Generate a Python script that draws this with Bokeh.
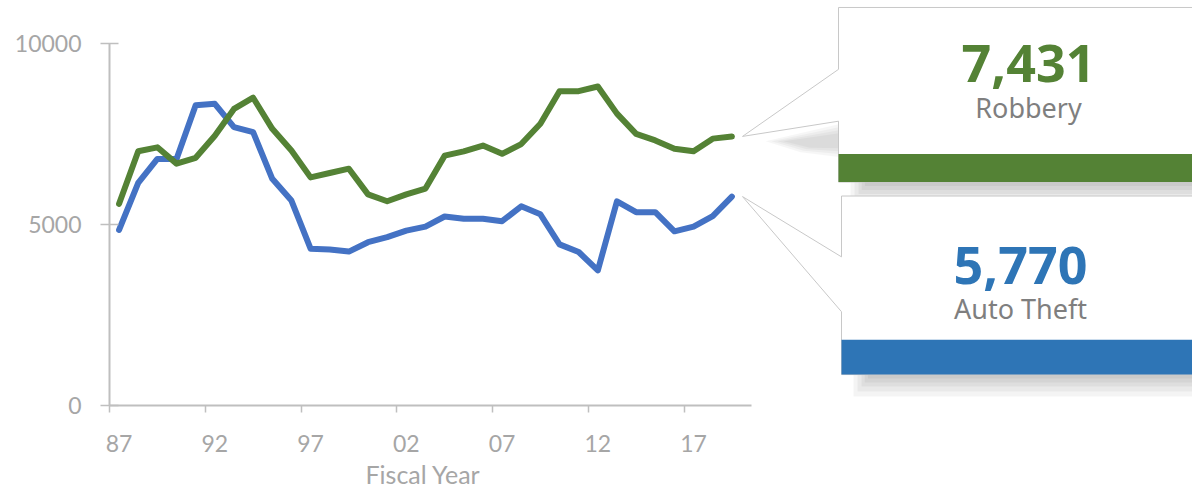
from bokeh.plotting import figure
from bokeh.models import Range1d, FixedTicker, Title
from bokeh.core.properties import value
from bokeh.embed import file_html
from bokeh.resources import INLINE

# ---------------- data ----------------
years = list(range(1987, 2020))
robbery = [5570, 7020, 7130, 6680, 6840, 7450, 8190, 8500, 7640, 7040,
           6300, 6420, 6540, 5830, 5640, 5830, 5990, 6900, 7020, 7180,
           6950, 7220, 7780, 8680, 8680, 8810, 8060, 7500, 7320, 7090,
           7020, 7370, 7431]
auto_theft = [4850, 6150, 6810, 6810, 8290, 8330, 7690, 7550, 6260, 5660,
              4330, 4310, 4250, 4510, 4650, 4830, 4940, 5220, 5160, 5160,
              5090, 5500, 5280, 4450, 4240, 3730, 5640, 5340, 5340, 4810,
              4940, 5230, 5770]
tick_years = [1987, 1992, 1997, 2002, 2007, 2012, 2017]
tick_labels = ["87", "92", "97", "02", "07", "12", "17"]
y_ticks = [0, 5000, 10000]
y_tick_labels = ["0", "5000", "10000"]
series_names = ["Robbery", "Auto Theft"]
axis_title = "Fiscal Year"

GREEN = "#548235"
BLUE_LINE = "#4472C4"
BLUE_BOX = "#2E75B6"
AXIS = "#bfbfbf"
TICK_TXT = "#a6a6a6"

# ---------------- layout ----------------
W, H = 1192, 491
LEFT = 109
frame_h = 406
BOTTOM = H - frame_h
frame_w = W - LEFT
PX_PER_YEAR = 19.15
PX_PER_UNIT = 0.0363
x0 = years[0] - 0.5
x1 = x0 + frame_w / PX_PER_YEAR
y1 = frame_h / PX_PER_UNIT


def sx(px):
    """canvas pixel x -> data x"""
    return x0 + (px - LEFT) / PX_PER_YEAR


def sy(py):
    """canvas pixel y -> data y"""
    return (frame_h - py) / PX_PER_UNIT


p = figure(width=W, height=H, x_range=Range1d(x0, x1), y_range=Range1d(0, y1),
           output_backend="svg", toolbar_location=None,
           min_border_left=LEFT, min_border_right=0, min_border_top=0,
           min_border_bottom=BOTTOM)
p.outline_line_color = None
p.grid.grid_line_color = None
p.background_fill_color = "white"
p.border_fill_color = "white"

# x axis
xa = p.xaxis[0]
xa.ticker = FixedTicker(ticks=tick_years, minor_ticks=[t - 0.5 for t in tick_years])
xa.major_label_overrides = {t: l for t, l in zip(tick_years, tick_labels)}
xa.major_tick_out = 0
xa.major_tick_in = 0
xa.minor_tick_out = 7
xa.minor_tick_in = 0
xa.minor_tick_line_color = AXIS
xa.minor_tick_line_width = 1.5
xa.axis_line_color = AXIS
xa.axis_line_width = 2
xa.bounds = (x0, years[-1] + 1)
xa.major_label_text_font = "Lato"
xa.major_label_text_font_size = "23px"
xa.major_label_text_color = TICK_TXT
xa.major_label_standoff = 22

# y axis
ya = p.yaxis[0]
ya.ticker = FixedTicker(ticks=y_ticks)
ya.major_label_overrides = {t: l for t, l in zip(y_ticks, y_tick_labels)}
ya.major_tick_out = 9
ya.major_tick_in = 9
ya.major_tick_line_color = AXIS
ya.major_tick_line_width = 1.5
ya.minor_tick_line_color = None
ya.axis_line_color = AXIS
ya.axis_line_width = 2
ya.bounds = (y_ticks[0], y_ticks[-1])
ya.major_label_text_font = "Lato"
ya.major_label_text_font_size = "23px"
ya.major_label_text_color = TICK_TXT
ya.major_label_standoff = 19

# axis title as a left-aligned title below the x axis
p.add_layout(Title(text=axis_title, align="left", offset=256, standoff=5,
                   text_font="Lato", text_font_size="25px",
                   text_font_style="normal", text_color=TICK_TXT), "below")

# series lines
p.line(years, auto_theft, line_color=BLUE_LINE, line_width=6,
       line_join="round", line_cap="round")
p.line(years, robbery, line_color=GREEN, line_width=6,
       line_join="round", line_cap="round")

# ---------------- callouts ----------------
def shadow_band(left, top, depths, right=1210, alpha=0.045):
    for d in depths:
        p.quad(left=sx(left + (max(depths) - d) * 0.8), right=sx(right),
               top=sy(top), bottom=sy(top + d),
               fill_color="black", fill_alpha=alpha, line_color=None)


def callout(box_left, box_top, bar_top, box_bottom, ptr_top, ptr_bot, tip_val,
            color, number, name, text_cx, num_base, name_base):
    shadow_band(box_left + 12, box_bottom, [22, 17, 12, 8, 4])
    xs = [sx(box_left), sx(1210), sx(1210), sx(box_left), sx(box_left),
          sx(742), sx(box_left)]
    ys = [sy(box_top), sy(box_top), sy(box_bottom), sy(box_bottom), sy(ptr_bot),
          tip_val, sy(ptr_top)]
    p.patch(xs, ys, fill_color="white", line_color="#c8c8c8", line_width=1)
    p.quad(left=sx(box_left), right=sx(1210), top=sy(bar_top), bottom=sy(box_bottom),
           fill_color=color, line_color=None)
    # baseline correction for Bokeh's alphabetic placement (~0.38 em)
    p.text(x=[sx(text_cx)], y=[sy(num_base - 20)], text=[number],
           text_font=value("Noto Sans"), text_font_style="bold",
           text_font_size="52px", text_color=color,
           text_align="center", text_baseline="alphabetic")
    p.text(x=[sx(text_cx)], y=[sy(name_base - 10)], text=[name],
           text_font=value("Noto Sans"), text_font_size="27px",
           text_color="#7f7f7f", text_align="center", text_baseline="alphabetic")


# soft shadow beside the robbery pointer
for k in range(4):
    s = k * 3
    px = [765 + s * 2, 838, 838, 800 + s]
    py = [141, 124 + s, 157 - s, 152 - s * 0.5]
    p.patch([sx(v) for v in px], [sy(v) for v in py], fill_color="black",
            fill_alpha=0.035, line_color=None)

callout(838, 7, 154, 182, 69, 121, robbery[-1], GREEN,
        f"{robbery[-1]:,}", series_names[0], 1028, 83, 117)
callout(841, 196, 340, 375, 257, 312, auto_theft[-1], BLUE_BOX,
        f"{auto_theft[-1]:,}", series_names[1], 1020, 286, 319)

open("out.html", "w").write(file_html(p, INLINE))
